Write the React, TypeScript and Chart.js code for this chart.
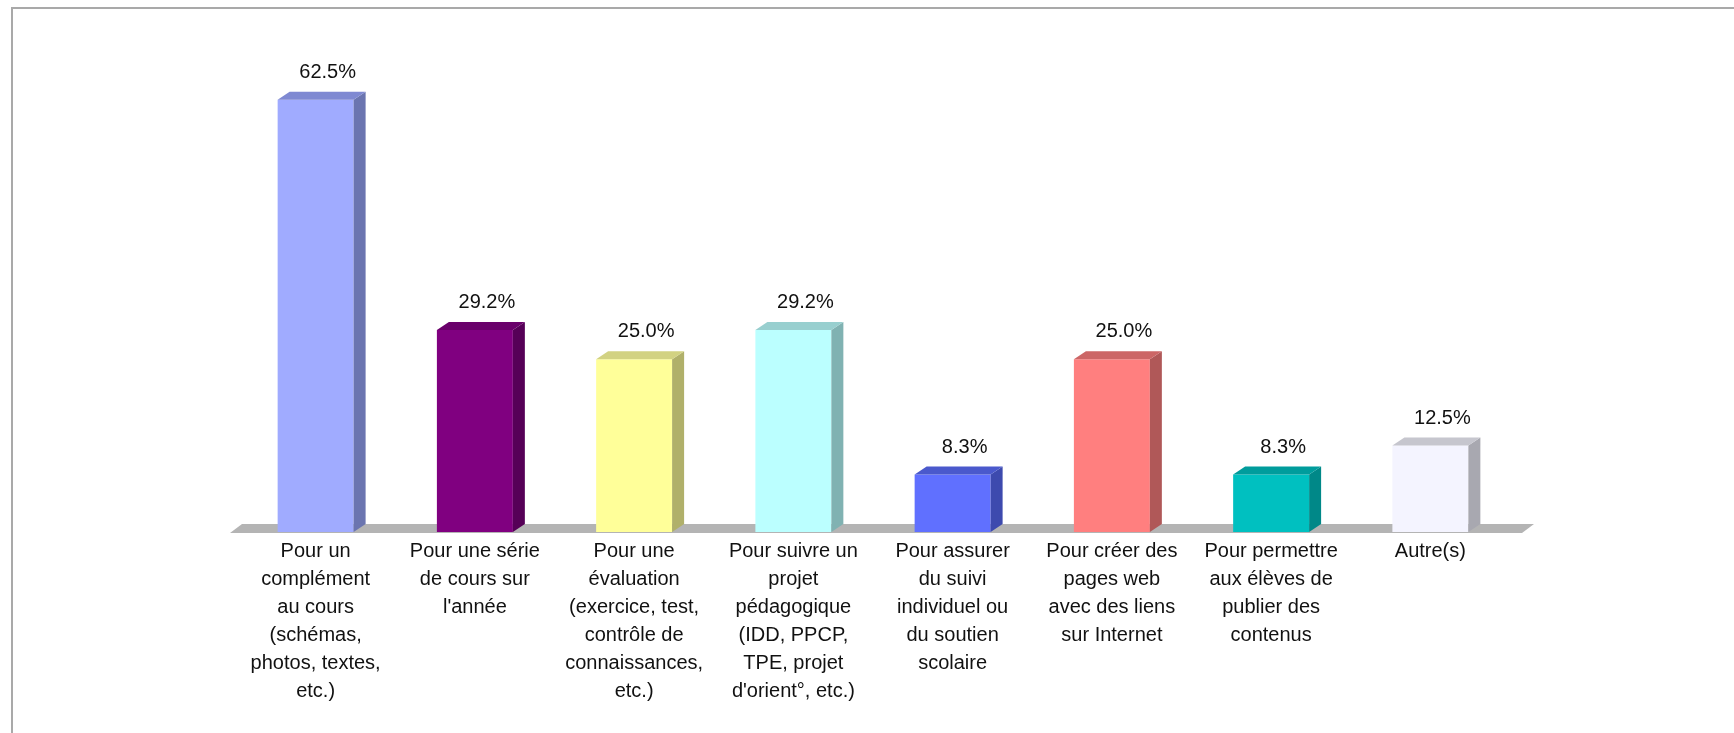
import React, { useEffect, useRef } from "react";
import { Chart, registerables } from "chart.js";

Chart.register(...registerables);

const categories: string[][] = [
  ["Pour un", "complément", "au cours", "(schémas,", "photos, textes,", "etc.)"],
  ["Pour une série", "de cours sur", "l'année"],
  ["Pour une", "évaluation", "(exercice, test,", "contrôle de", "connaissances,", "etc.)"],
  ["Pour suivre un", "projet", "pédagogique", "(IDD, PPCP,", "TPE, projet", "d'orient°, etc.)"],
  ["Pour assurer", "du suivi", "individuel ou", "du soutien", "scolaire"],
  ["Pour créer des", "pages web", "avec des liens", "sur Internet"],
  ["Pour permettre", "aux élèves de", "publier des", "contenus"],
  ["Autre(s)"],
];

const values: number[] = [62.5, 29.2, 25.0, 29.2, 8.3, 25.0, 8.3, 12.5];

const frontColors: string[] = ["#a0abff", "#800080", "#ffff99", "#bbffff", "#6070ff", "#ff7f7f", "#00c0c0", "#f4f4ff"];
const sideColors: string[] = ["#6b75b0", "#560057", "#b0b06a", "#80b2b2", "#3d4aae", "#b05858", "#008888", "#a8a8b0"];
const topColors: string[] = ["#7f89d2", "#6a006b", "#d2d282", "#98cfcf", "#4a59cc", "#cc6666", "#009c9c", "#c6c6ce"];

const DX = 12;
const DY = 8;

const threeD = {
  id: "threeD",
  beforeDatasetsDraw(chart: any) {
    const { ctx, chartArea } = chart;
    const base = chartArea.bottom + 1;
    ctx.save();
    ctx.fillStyle = "#b4b4b4";
    ctx.beginPath();
    ctx.moveTo(chartArea.left - 6, base);
    ctx.lineTo(chartArea.right + 12, base);
    ctx.lineTo(chartArea.right + 24, base - DY - 1);
    ctx.lineTo(chartArea.left + 6, base - DY - 1);
    ctx.closePath();
    ctx.fill();
    ctx.restore();
  },
  afterDatasetsDraw(chart: any) {
    const { ctx } = chart;
    const meta = chart.getDatasetMeta(0);
    ctx.save();
    meta.data.forEach((bar: any, i: number) => {
      const { x, y, base, width } = bar.getProps(["x", "y", "base", "width"], true);
      const l = x - width / 2;
      const r = x + width / 2;
      ctx.fillStyle = sideColors[i];
      ctx.beginPath();
      ctx.moveTo(r, y);
      ctx.lineTo(r + DX, y - DY);
      ctx.lineTo(r + DX, base - DY);
      ctx.lineTo(r, base);
      ctx.closePath();
      ctx.fill();
      ctx.fillStyle = topColors[i];
      ctx.beginPath();
      ctx.moveTo(l, y);
      ctx.lineTo(l + DX, y - DY);
      ctx.lineTo(r + DX, y - DY);
      ctx.lineTo(r, y);
      ctx.closePath();
      ctx.fill();
      ctx.fillStyle = "#111111";
      ctx.font = "20px 'Liberation Sans', Arial, sans-serif";
      ctx.textAlign = "center";
      ctx.textBaseline = "alphabetic";
      ctx.fillText(values[i].toFixed(1) + "%", x + 12, y - 22);
    });
    ctx.restore();
  },
};

export default function App() {
  const ref = useRef<HTMLCanvasElement>(null);
  useEffect(() => {
    if (!ref.current) return;
    const chart = new Chart(ref.current, {
      type: "bar",
      data: {
        labels: categories,
        datasets: [
          {
            data: values,
            backgroundColor: frontColors,
            borderWidth: 0,
            barPercentage: 0.477,
            categoryPercentage: 1,
          },
        ],
      },
      options: {
        animation: false,
        responsive: false,
        devicePixelRatio: 1,
        layout: { padding: { left: 236, right: 224, top: 48, bottom: 0 } },
        plugins: { legend: { display: false }, tooltip: { enabled: false } },
        scales: {
          y: { display: false, min: 0, max: 70 },
          x: {
            grid: { display: false, drawTicks: false },
            border: { display: false },
            afterFit: (scale: any) => {
              scale.height = 201;
            },
            ticks: {
              padding: 5,
              color: "#111111",
              maxRotation: 0,
              autoSkip: false,
              font: { family: "'Liberation Sans', Arial, sans-serif", size: 20, lineHeight: 1.4 },
            },
          },
        },
      },
      plugins: [threeD],
    });
    return () => chart.destroy();
  }, []);
  return (
    <div style={{ position: "absolute", left: 0, top: 0, width: 1734, height: 733, background: "#fff", overflow: "hidden" }}>
      <div
        style={{
          position: "absolute",
          left: 11,
          top: 7,
          width: 1740,
          height: 740,
          borderTop: "2px solid #a9a9a9",
          borderLeft: "2px solid #a9a9a9",
        }}
      />
      <canvas ref={ref} width={1734} height={733} style={{ position: "absolute", left: 0, top: 0, width: 1734, height: 733 }} />
    </div>
  );
}
